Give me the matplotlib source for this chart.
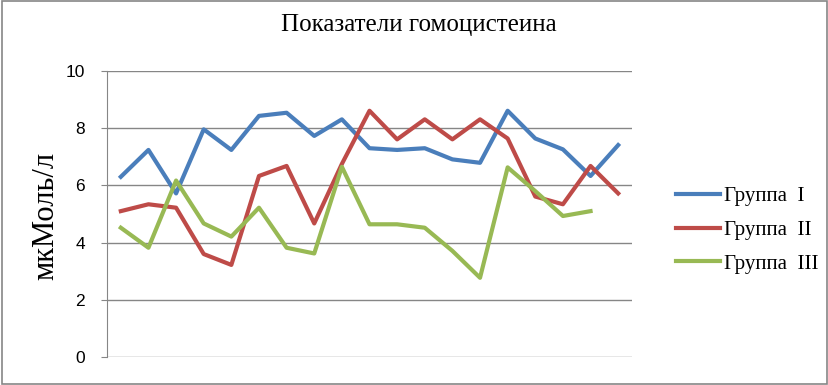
import matplotlib.pyplot as plt
import numpy as np

# values
group1 = [6.30, 7.24, 5.72, 7.96, 7.24, 8.43, 8.54, 7.73, 8.31, 7.30,
          7.24, 7.30, 6.91, 6.79, 8.61, 7.64, 7.26, 6.33, 7.41]
group2 = [5.10, 5.34, 5.22, 3.60, 3.22, 6.33, 6.68, 4.67, 6.75, 8.61,
          7.61, 8.31, 7.61, 8.31, 7.64, 5.61, 5.34, 6.68, 5.72]
group3 = [4.52, 3.82, 6.17, 4.67, 4.21, 5.22, 3.82, 3.62, 6.65, 4.64,
          4.64, 4.52, 3.71, 2.77, 6.63, 5.80, 4.93, 5.10]
labels = ["Группа  I", "Группа  II", "Группа  III"]
colors = ["#4A7EBB", "#BE4B48", "#98B954"]
title = "Показатели гомоцистеина"
ylabel = "мкМоль/л"

serif = ["Liberation Serif", "DejaVu Serif"]

fig = plt.figure(figsize=(8.29, 3.85), dpi=100)
ax = fig.add_axes([107 / 829, 1 - 357 / 385, 525 / 829, 286 / 385])

for vals, lab, col in zip([group1, group2, group3], labels, colors):
    x = np.arange(len(vals))
    ax.plot(x, vals, color=col, lw=3.0, label=lab, solid_joinstyle="round")

ax.set_xlim(-0.5, 18.5)
ax.set_ylim(0, 10)
ax.set_yticks(range(0, 11, 2))
ax.set_xticks([])
ax.yaxis.grid(True, color="#868686", lw=1.0)
ax.set_axisbelow(True)
for s in ["top", "right", "bottom"]:
    ax.spines[s].set_visible(False)
ax.spines["left"].set_color("#868686")
ax.tick_params(axis="y", length=4, color="#868686", labelsize=12.5, pad=12)
for t in ax.get_yticklabels():
    t.set_fontfamily(["Liberation Sans", "DejaVu Sans"])

fig.text(419 / 829, 1 - 25 / 385, title, ha="center", va="center",
         fontsize=18, family=serif)
fig.text(46 / 829, 1 - 216 / 385, ylabel, ha="center", va="center",
         rotation=90, fontsize=22, family=serif)

leg = fig.legend(loc="center left", bbox_to_anchor=(676 / 829, 1 - 230 / 385),
                 frameon=False, prop={"family": serif, "size": 15},
                 handlelength=2.1, handletextpad=0.2, labelspacing=0.68,
                 borderaxespad=0, borderpad=0)

# outer frame like the source image
fig.patches.append(plt.Rectangle((0.002, 0.003), 0.996, 0.994, transform=fig.transFigure,
                                 fill=False, edgecolor="#868686", lw=1.2))

fig.savefig("out.png", dpi=100)
